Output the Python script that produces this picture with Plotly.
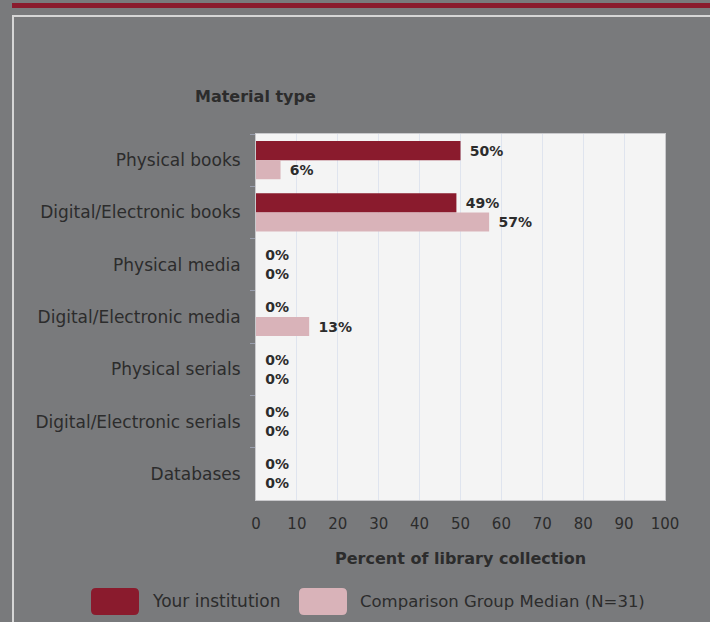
import plotly.graph_objects as go

categories = ["Physical books", "Digital/Electronic books", "Physical media",
              "Digital/Electronic media", "Physical serials",
              "Digital/Electronic serials", "Databases"]
your_institution = [50, 49, 0, 0, 0, 0, 0]
comparison_median = [6, 57, 0, 13, 0, 0, 0]
series_names = ["Your institution", "Comparison Group Median (N=31)"]
x_ticks = list(range(0, 101, 10))

DARK = "#8a1b2d"
PINK = "#d9b3b9"
BG = "#797a7c"
TXT = "#2c2c2c"
FONT = "DejaVu Sans"

W, H = 710, 622
# plot area in page pixels
L, R, T, B = 256, 665, 134, 500


def px(x):
    return (x - L) / (R - L)


def py(y):
    return (B - y) / (B - T)


fig = go.Figure()
for name, vals, col in [(series_names[0], your_institution, DARK),
                        (series_names[1], comparison_median, PINK)]:
    fig.add_trace(go.Bar(
        y=categories, x=vals, orientation="h", name=name,
        marker=dict(color=col, line=dict(width=0)),
        texttemplate="\u00a0\u200a%{x}%", textposition="outside",
        textfont=dict(family=FONT, size=14, color=TXT, weight="bold"),
        cliponaxis=False, constraintext="none", showlegend=False,
    ))


def rounded_rect(x0, y0, x1, y1, r):
    pts = [
        f"M{px(x0 + r)},{py(y0)}",
        f"L{px(x1 - r)},{py(y0)}",
        f"Q{px(x1)},{py(y0)} {px(x1)},{py(y0 + r)}",
        f"L{px(x1)},{py(y1 - r)}",
        f"Q{px(x1)},{py(y1)} {px(x1 - r)},{py(y1)}",
        f"L{px(x0 + r)},{py(y1)}",
        f"Q{px(x0)},{py(y1)} {px(x0)},{py(y1 - r)}",
        f"L{px(x0)},{py(y0 + r)}",
        f"Q{px(x0)},{py(y0)} {px(x0 + r)},{py(y0)}",
        "Z",
    ]
    return " ".join(pts)


shapes = [
    dict(type="rect", xref="paper", yref="paper", x0=px(12), x1=px(720),
         y0=py(8), y1=py(3), fillcolor=DARK, line=dict(width=0), layer="below"),
    dict(type="rect", xref="paper", yref="paper", x0=px(13), x1=px(730),
         y0=py(640), y1=py(16), fillcolor="rgba(0,0,0,0)",
         line=dict(color="#d6d6d6", width=2), layer="below"),
    dict(type="path", xref="paper", yref="paper",
         path=rounded_rect(91, 588, 139, 615, 5), fillcolor=DARK,
         line=dict(width=0)),
    dict(type="path", xref="paper", yref="paper",
         path=rounded_rect(299, 588, 347, 615, 5), fillcolor=PINK,
         line=dict(width=0)),
]

annotations = [
    dict(text="<b>Material type</b>", xref="paper", yref="paper",
         x=px(255), y=py(96), xanchor="center", yanchor="middle",
         showarrow=False, font=dict(family=FONT, size=16, color=TXT)),
    dict(text="<b>Percent of library collection</b>", xref="paper",
         yref="paper", x=px(460), y=py(558), xanchor="center",
         yanchor="middle", showarrow=False,
         font=dict(family=FONT, size=16, color=TXT)),
    dict(text=series_names[0], xref="paper", yref="paper",
         x=px(150), y=py(601), xanchor="left", yanchor="middle",
         showarrow=False, font=dict(family=FONT, size=17, color=TXT)),
    dict(text=series_names[1], xref="paper", yref="paper",
         x=px(358), y=py(601), xanchor="left", yanchor="middle",
         showarrow=False, font=dict(family=FONT, size=16.5, color=TXT)),
]

fig.update_layout(
    width=W, height=H,
    margin=dict(l=L, r=W - R, t=T, b=H - B),
    paper_bgcolor=BG, plot_bgcolor="#f4f4f4",
    barmode="group", bargap=0.27, bargroupgap=0,
    font=dict(family=FONT, color=TXT),
    shapes=shapes, annotations=annotations,
    xaxis=dict(range=[0, 100], tickvals=x_ticks, ticks="",
               tickfont=dict(size=15, color=TXT),
               showgrid=True, gridcolor="#dfe4ee", gridwidth=1,
               showline=True, linecolor="#c9c9cc", linewidth=1, mirror=True,
               zeroline=False, ticklabelstandoff=10),
    yaxis=dict(autorange="reversed", tickson="boundaries", ticks="outside",
               ticklen=5, tickcolor="#9a9fae",
               tickfont=dict(size=17, color=TXT),
               showgrid=False, showline=True, linecolor="#c9c9cc",
               linewidth=1, mirror=True, ticklabelstandoff=11),
)

fig.write_html(
    "out.html",
    config={"displayModeBar": False},
    post_script="document.body.style.margin='0px';"
                "document.body.style.background='%s';" % BG,
)
